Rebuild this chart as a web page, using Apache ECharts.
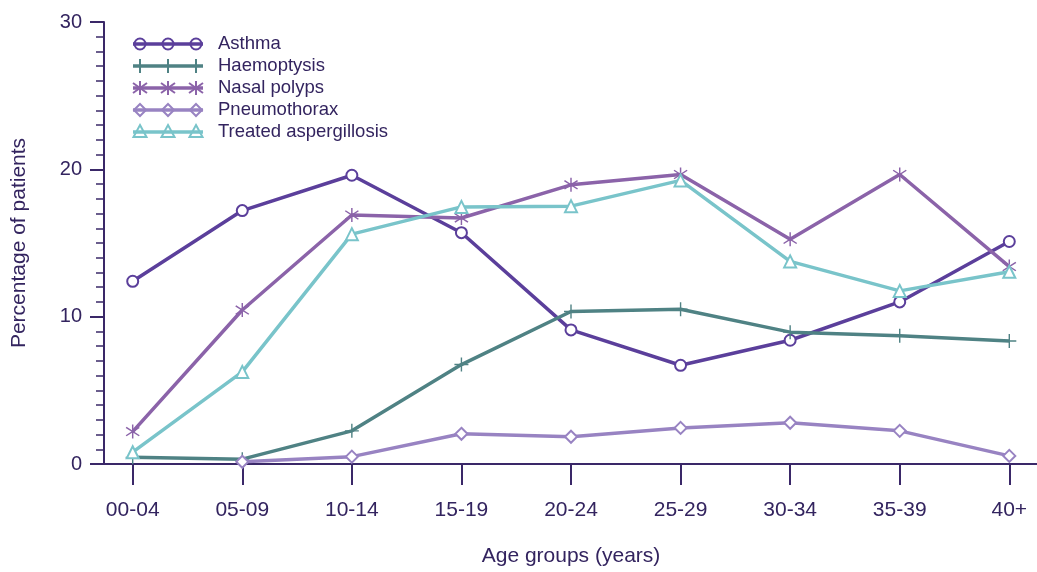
<!DOCTYPE html>
<html>
<head>
<meta charset="utf-8">
<title>Age distribution of clinical features</title>
<script src="https://cdn.jsdelivr.net/npm/echarts@6/dist/echarts.min.js"></script>
<style>
  html, body { margin: 0; padding: 0; background: #fff; }
  #chart { width: 1037px; height: 572px; }
</style>
</head>
<body>
<div id="chart"></div>
<script>
// Age bands on the horizontal axis
const ageGroups = ['00-04', '05-09', '10-14', '15-19', '20-24', '25-29', '30-34', '35-39', '40+'];

// Percentage of patients in each age band
const asthma = [12.4, 17.2, 19.6, 15.7, 9.1, 6.7, 8.4, 11.0, 15.1];
const haemoptysis = [0.45, 0.33, 2.25, 6.75, 10.35, 10.5, 8.95, 8.7, 8.35];
const nasalPolyps = [2.2, 10.45, 16.9, 16.7, 18.95, 19.65, 15.25, 19.65, 13.4];
const pneumothorax = [null, 0.15, 0.5, 2.05, 1.85, 2.45, 2.8, 2.25, 0.55];
const treatedAspergillosis = [0.8, 6.25, 15.6, 17.45, 17.5, 19.25, 13.75, 11.75, 13.05];

const seriesNames = ['Asthma', 'Haemoptysis', 'Nasal polyps', 'Pneumothorax', 'Treated aspergillosis'];
const yTicks = [0, 10, 20, 30];

const TEXT = '#33245f';
const AXIS = '#3a2868';
const FONT = '"Liberation Sans", Arial, sans-serif';

const colors = ['#5b3f9b', '#4f8284', '#8b63a9', '#9883c2', '#79c4ca'];
const markerKinds = ['circle', 'plus', 'star', 'diamond', 'triangle'];

const PLUS = 'path://M9,0h2v20h-2zM0,9h20v2h-20z';
const STAR = 'path://M9,0h2v20h-2z' +
  'M0.4,4.8L1.6,3.2L19.6,15.2L18.4,16.8Z' +
  'M18.4,3.2L19.6,4.8L1.6,16.8L0.4,15.2Z';

const symbolFor = {
  circle: { symbol: 'emptyCircle', size: 11 },
  plus: { symbol: PLUS, size: 14 },
  star: { symbol: STAR, size: 14 },
  diamond: { symbol: 'emptyDiamond', size: 12 },
  triangle: { symbol: 'emptyTriangle', size: 12 }
};

const dataSets = [asthma, haemoptysis, nasalPolyps, pneumothorax, treatedAspergillosis];

const series = dataSets.map((data, i) => {
  const kind = markerKinds[i];
  const filled = kind === 'plus' || kind === 'star';
  return {
    name: seriesNames[i],
    type: 'line',
    xAxisIndex: 0,
    yAxisIndex: 0,
    data: data,
    symbol: symbolFor[kind].symbol,
    symbolSize: symbolFor[kind].size,
    showSymbol: true,
    connectNulls: false,
    lineStyle: { color: colors[i], width: 3.5 },
    itemStyle: filled
      ? { color: colors[i], borderWidth: 0 }
      : { color: colors[i], borderColor: colors[i], borderWidth: 2 },
    emphasis: { disabled: true },
    z: 3 + i
  };
});

// Legend drawn as a small group per entry: a line, three markers, and the label
function legendMarker(kind, cx, cy, color) {
  const stroke = { stroke: color, lineWidth: 2, fill: 'none' };
  switch (kind) {
    case 'circle':
      return { type: 'circle', shape: { cx, cy, r: 5.5 }, style: stroke };
    case 'diamond':
      return { type: 'polygon', shape: { points: [[cx, cy - 6], [cx + 6, cy], [cx, cy + 6], [cx - 6, cy]] }, style: stroke };
    case 'triangle':
      return { type: 'polygon', shape: { points: [[cx, cy - 7], [cx + 6.5, cy + 5], [cx - 6.5, cy + 5]] }, style: stroke };
    case 'plus':
      return { type: 'line', shape: { x1: cx, y1: cy - 7, x2: cx, y2: cy + 7 }, style: { stroke: color, lineWidth: 2 } };
    case 'star':
      return {
        type: 'group',
        children: [
          { type: 'line', shape: { x1: cx, y1: cy - 7, x2: cx, y2: cy + 7 }, style: { stroke: color, lineWidth: 2 } },
          { type: 'line', shape: { x1: cx - 7, y1: cy - 5, x2: cx + 7, y2: cy + 5 }, style: { stroke: color, lineWidth: 2 } },
          { type: 'line', shape: { x1: cx + 7, y1: cy - 5, x2: cx - 7, y2: cy + 5 }, style: { stroke: color, lineWidth: 2 } }
        ]
      };
  }
}

const legendGraphics = seriesNames.map((name, i) => {
  const y = 44 + i * 22;
  const children = [
    { type: 'line', shape: { x1: 133, y1: y, x2: 203, y2: y }, style: { stroke: colors[i], lineWidth: 3.5 } }
  ];
  [140, 168, 196].forEach(x => children.push(legendMarker(markerKinds[i], x, y, colors[i])));
  children.push({
    type: 'text',
    x: 218,
    y: y,
    style: { text: name, fill: TEXT, font: '18.5px ' + FONT, verticalAlign: 'middle', align: 'left' }
  });
  return { type: 'group', children };
});

const chart = echarts.init(document.getElementById('chart'), null, { renderer: 'canvas' });

chart.setOption({
  backgroundColor: '#ffffff',
  animation: false,
  textStyle: { fontFamily: FONT },
  grid: [
    { left: 132.7, right: 27.7, top: 22, bottom: 108 },
    { left: 104, right: 0, top: 22, bottom: 108 }
  ],
  xAxis: [
    {
      type: 'category',
      gridIndex: 0,
      data: ageGroups,
      boundaryGap: false,
      axisLine: { show: false },
      axisTick: { show: true, alignWithLabel: true, length: 21, lineStyle: { color: AXIS, width: 2 } },
      axisLabel: { color: TEXT, fontSize: 21, margin: 36, fontFamily: FONT },
      splitLine: { show: false },
      name: 'Age groups (years)',
      nameLocation: 'middle',
      nameGap: 82,
      nameTextStyle: { color: TEXT, fontSize: 21, fontFamily: FONT }
    },
    {
      // baseline spanning from the vertical axis to the right edge
      type: 'value',
      gridIndex: 1,
      min: 0,
      max: 1,
      axisLine: { show: true, onZero: false, lineStyle: { color: AXIS, width: 2 } },
      axisTick: { show: false },
      axisLabel: { show: false },
      splitLine: { show: false }
    }
  ],
  yAxis: [
    {
      type: 'value',
      gridIndex: 0,
      min: yTicks[0],
      max: yTicks[yTicks.length - 1],
      interval: 10,
      offset: 28.7,
      axisLine: { show: true, lineStyle: { color: AXIS, width: 2 } },
      axisTick: { show: true, length: 14, lineStyle: { color: AXIS, width: 2 } },
      minorTick: { show: true, splitNumber: 10, length: 8, lineStyle: { color: AXIS, width: 1.5 } },
      axisLabel: { color: TEXT, fontSize: 20, margin: 22, fontFamily: FONT },
      splitLine: { show: false },
      minorSplitLine: { show: false },
      name: 'Percentage of patients',
      nameLocation: 'middle',
      nameRotate: 90,
      nameGap: 74,
      nameTextStyle: { color: TEXT, fontSize: 21, fontFamily: FONT }
    },
    {
      type: 'value',
      gridIndex: 1,
      show: false,
      min: 0,
      max: 1
    }
  ],
  series: series,
  graphic: legendGraphics
});
</script>
</body>
</html>
